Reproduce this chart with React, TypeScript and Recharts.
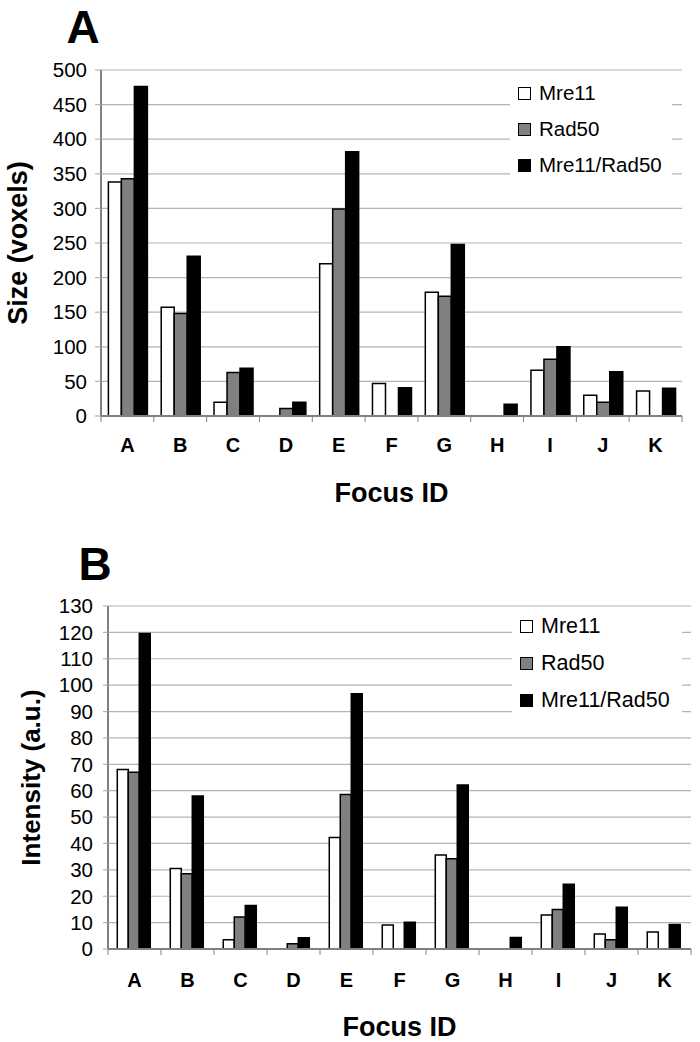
import React from 'react';
import { BarChart, Bar, XAxis, YAxis, CartesianGrid, Legend } from 'recharts';

// ---------- data ----------
const categories = ['A', 'B', 'C', 'D', 'E', 'F', 'G', 'H', 'I', 'J', 'K'];

const sizeMre11 = [338, 157, 20, 0, 220, 47, 179, 0, 66, 30, 36];
const sizeRad50 = [343, 148, 63, 11, 299, 0, 173, 0, 82, 20, 0];
const sizeMre11Rad50 = [476, 231, 69, 20, 382, 41, 248, 17, 100, 64, 40];

const intensityMre11 = [68, 30.5, 3.5, 0, 42.3, 9.1, 35.6, 0, 12.9, 5.7, 6.4];
const intensityRad50 = [67, 28.5, 12.1, 2, 58.6, 0, 34.2, 0, 15, 3.5, 0];
const intensityMre11Rad50 = [119.6, 58, 16.5, 4.3, 96.7, 10.1, 62.2, 4.4, 24.5, 15.8, 9.3];

const sizeTicks = [0, 50, 100, 150, 200, 250, 300, 350, 400, 450, 500];
const intensityTicks = [0, 10, 20, 30, 40, 50, 60, 70, 80, 90, 100, 110, 120, 130];

const seriesNames = ['Mre11', 'Rad50', 'Mre11/Rad50'];
const seriesFills = ['#ffffff', '#808080', '#000000'];

const FONT = '"Liberation Sans", Arial, Helvetica, sans-serif';
const GRID = '#b4b4b4';
const BORDER = '#808080';

function buildRows(a: number[], b: number[], c: number[]) {
  return categories.map((cat, i) => ({ cat, s0: a[i], s1: b[i], s2: c[i] }));
}

const sizeRows = buildRows(sizeMre11, sizeRad50, sizeMre11Rad50);
const intensityRows = buildRows(intensityMre11, intensityRad50, intensityMre11Rad50);

// ---------- custom pieces ----------
const makeXTick = (labelDy: number) => (props: any) => {
  const { x, y, payload } = props;
  const half = payload && typeof payload.offset === 'number' ? payload.offset : 0;
  const isLast = payload && payload.value === categories[categories.length - 1];
  return (
    <g>
      <line x1={x - half} x2={x - half} y1={y} y2={y + 6} stroke={BORDER} strokeWidth={1} />
      {isLast ? <line x1={x + half} x2={x + half} y1={y} y2={y + 6} stroke={BORDER} strokeWidth={1} /> : null}
      <text
        x={x}
        y={y + labelDy}
        textAnchor="middle"
        dominantBaseline="central"
        fontFamily={FONT}
        fontWeight="bold"
        fontSize={20}
        fill="#000"
      >
        {payload.value}
      </text>
    </g>
  );
};

const makeXTitle = (text: string, dy: number) => (props: any) => {
  const vb = props.viewBox || { x: 0, y: 0, width: 0, height: 0 };
  return (
    <text
      x={vb.x + vb.width / 2}
      y={vb.y + dy}
      textAnchor="middle"
      dominantBaseline="central"
      fontFamily={FONT}
      fontWeight="bold"
      fontSize={27}
      fill="#000"
    >
      {text}
    </text>
  );
};

const makeYTitle = (text: string, cx: number, fontSize: number) => (props: any) => {
  const vb = props.viewBox || { x: 0, y: 0, width: 0, height: 0 };
  const x = vb.x + cx;
  const y = vb.y + vb.height / 2;
  return (
    <text
      x={x}
      y={y}
      transform={`rotate(-90, ${x}, ${y})`}
      textAnchor="middle"
      dominantBaseline="central"
      fontFamily={FONT}
      fontWeight="bold"
      fontSize={fontSize}
      fill="#000"
    >
      {text}
    </text>
  );
};

const makeLegend = (rowHeight: number, fontSize: number) => () => (
  <div style={{ width: '100%', height: '100%', background: '#fff', fontFamily: FONT }}>
    {seriesNames.map((name, i) => (
      <div key={name} style={{ height: rowHeight, display: 'flex', alignItems: 'center' }}>
        <span
          style={{
            display: 'inline-block',
            width: 11,
            height: 11,
            marginLeft: 8,
            marginRight: 8,
            background: seriesFills[i],
            border: '1.5px solid #000',
          }}
        />
        <span style={{ fontSize, color: '#000', whiteSpace: 'nowrap' }}>{name}</span>
      </div>
    ))}
  </div>
);

interface PanelProps {
  rows: any[];
  ticks: number[];
  max: number;
  top: number;
  height: number;
  margin: { top: number; right: number; bottom: number; left: number };
  yAxisWidth: number;
  tickMargin: number;
  tickSize: number;
  gap: string;
  xLabelDy: number;
  xTitleDy: number;
  yTitle: string;
  yTitleX: number;
  yTitleSize: number;
  letter: string;
  letterX: number;
  letterY: number;
  legendBox: { left: number; top: number; width: number; height: number };
  legendRow: number;
  legendFont: number;
}

function Panel(p: PanelProps) {
  return (
    <div style={{ position: 'absolute', left: 0, top: p.top, width: 700, height: p.height }}>
      <BarChart
        width={700}
        height={p.height}
        data={p.rows}
        margin={p.margin}
        barCategoryGap={p.gap}
        barGap={0}
      >
        <CartesianGrid vertical={false} stroke={GRID} strokeWidth={1.2} />
        <XAxis
          dataKey="cat"
          height={90}
          axisLine={{ stroke: BORDER, strokeWidth: 2 }}
          tickLine={false}
          tickSize={0}
          tickMargin={0}
          interval={0}
          tick={makeXTick(p.xLabelDy)}
          label={makeXTitle('Focus ID', p.xTitleDy)}
        />
        <XAxis
          xAxisId="top"
          dataKey="cat"
          orientation="top"
          height={0}
          axisLine={{ stroke: BORDER, strokeWidth: 2 }}
          tick={false}
          tickLine={false}
        />
        <YAxis
          domain={[0, p.max]}
          ticks={p.ticks}
          interval={0}
          width={p.yAxisWidth}
          allowDataOverflow
          axisLine={{ stroke: BORDER, strokeWidth: 2 }}
          tickLine={{ stroke: GRID, strokeWidth: 1.2 }}
          tickSize={p.tickSize}
          tickMargin={p.tickMargin}
          tick={{ fill: '#000', fontSize: 20.5, fontFamily: FONT }}
          label={makeYTitle(p.yTitle, p.yTitleX, p.yTitleSize)}
        />
        <YAxis
          yAxisId="right"
          orientation="right"
          domain={[0, p.max]}
          width={0}
          axisLine={{ stroke: BORDER, strokeWidth: 2 }}
          tick={false}
          tickLine={false}
        />
        <Legend
          layout="vertical"
          align="center"
          verticalAlign="middle"
          content={makeLegend(p.legendRow, p.legendFont)}
          wrapperStyle={{
            left: p.legendBox.left,
            top: p.legendBox.top,
            width: p.legendBox.width,
            height: p.legendBox.height,
            background: '#fff',
          }}
        />
        {seriesNames.map((name, i) => (
          <Bar
            key={name}
            dataKey={`s${i}`}
            name={name}
            fill={seriesFills[i]}
            stroke="#000"
            strokeWidth={1.5}
            isAnimationActive={false}
          />
        ))}
      </BarChart>
      <div
        style={{
          position: 'absolute',
          left: p.letterX - 30,
          top: p.letterY - 30,
          width: 60,
          height: 60,
          lineHeight: '60px',
          textAlign: 'center',
          fontFamily: FONT,
          fontWeight: 'bold',
          fontSize: 46,
          color: '#000',
        }}
      >
        {p.letter}
      </div>
    </div>
  );
}

export default function App() {
  return (
    <div style={{ position: 'absolute', left: 0, top: 0, width: 700, height: 1042, background: '#fff' }}>
      <Panel
        rows={sizeRows}
        ticks={sizeTicks}
        max={500}
        top={0}
        height={520}
        margin={{ top: 70, right: 18, bottom: 14, left: 0 }}
        yAxisWidth={101}
        tickSize={6}
        tickMargin={8}
        gap="14%"
        xLabelDy={29}
        xTitleDy={77}
        yTitle="Size (voxels)"
        yTitleX={18}
        yTitleSize={27}
        letter="A"
        letterX={83}
        letterY={27}
        legendBox={{ left: 510, top: 75, width: 162, height: 110 }}
        legendRow={36}
        legendFont={20.5}
      />
      <Panel
        rows={intensityRows}
        ticks={intensityTicks}
        max={130}
        top={520}
        height={522}
        margin={{ top: 86, right: 9, bottom: 3, left: 0 }}
        yAxisWidth={108}
        tickSize={5}
        tickMargin={10}
        gap="17.5%"
        xLabelDy={31}
        xTitleDy={78}
        yTitle="Intensity (a.u.)"
        yTitleX={31}
        yTitleSize={26}
        letter="B"
        letterX={95}
        letterY={44}
        legendBox={{ left: 512, top: 88, width: 170, height: 114 }}
        legendRow={37}
        legendFont={21.5}
      />
    </div>
  );
}
